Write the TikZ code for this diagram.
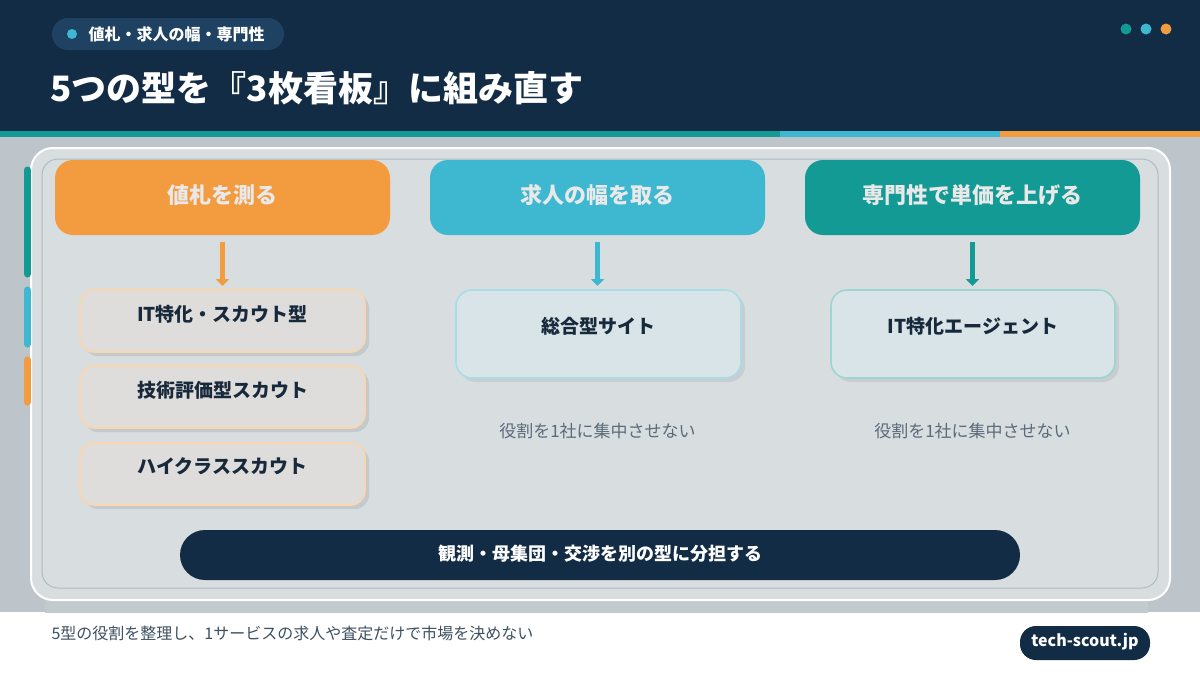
\documentclass[tikz,border=0pt]{standalone}
\usepackage{fontspec}
\setmainfont{Noto Sans CJK JP}
\usetikzlibrary{arrows.meta}
\definecolor{navy}{HTML}{132C45}
\definecolor{tagbg}{HTML}{1F4262}
\definecolor{cteal}{HTML}{149A94}
\definecolor{cblue}{HTML}{3EB8D1}
\definecolor{corange}{HTML}{F39B3F}
\definecolor{photo}{HTML}{BEC5CA}
\definecolor{panel}{HTML}{D8DDE0}
\definecolor{innerline}{HTML}{AEBCC3}
\definecolor{itemfill}{HTML}{DEDDDB}
\definecolor{itemline}{HTML}{FBD6AA}
\definecolor{midfill}{HTML}{D9E4E8}
\definecolor{midline}{HTML}{A8DDE6}
\definecolor{rightline}{HTML}{9DD6D0}
\definecolor{shadowc}{HTML}{C3CACE}
\definecolor{txtdark}{HTML}{17293A}
\definecolor{txtgray}{HTML}{5B6B7A}
\definecolor{foottxt}{HTML}{3E5162}
\definecolor{headtxt}{HTML}{E9E9E9}
\tikzset{
  itembox/.style={draw=itemline, line width=1.6pt, fill=itemfill, rounded corners=14pt},
  flowarrow/.style={line width=5.5pt, -{Triangle[length=7pt,width=13pt]}},
  headlabel/.style={text=headtxt, font=\fontsize{22}{26}\selectfont\bfseries},
  itemlabel/.style={text=txtdark, font=\fontsize{19}{22}\selectfont\bfseries},
  caption/.style={text=txtgray, font=\fontsize{17}{20}\selectfont},
}
\begin{document}
\begin{tikzpicture}[x=1pt,y=-1pt]
\useasboundingbox (0,0) rectangle (1200,675);
% backgrounds
\fill[white] (0,0) rectangle (1200,675);
\fill[navy] (0,0) rectangle (1200,131);
\fill[cteal] (0,131) rectangle (780,137);
\fill[cblue] (780,131) rectangle (1000,137);
\fill[corange] (1000,131) rectangle (1200,137);
\fill[photo] (0,137) rectangle (1200,612);
\fill[shadowc] (45,600) rectangle (1148,613);
% header
\fill[tagbg,rounded corners=16pt] (52,18) rectangle (284,50);
\fill[cblue] (72,34) circle (5);
\node[anchor=west, text=white, font=\fontsize{16}{18}\selectfont\bfseries] (tag) at (85,34) {値札・求人の幅・専門性};
\node[anchor=west, text=white, font=\fontsize{35}{40}\selectfont\bfseries] (title) at (47,88) {5つの型を『3枚看板』に組み直す};
\fill[cteal] (1126,29) circle (5.5);
\fill[cblue] (1146,29) circle (5.5);
\fill[corange] (1166,29) circle (5.5);
% panel
\draw[white, line width=2pt, fill=panel, rounded corners=22pt] (31,148) rectangle (1170,600);
\draw[innerline, line width=1pt, rounded corners=16pt] (42,159) rectangle (1158,588);
% side bars
\draw[cteal, line width=7pt, line cap=round] (27.5,170) -- (27.5,274);
\draw[cblue, line width=7pt, line cap=round] (27.5,290) -- (27.5,344);
\draw[corange, line width=7pt, line cap=round] (27.5,360) -- (27.5,402);
% column headers
\fill[corange, rounded corners=18pt] (55,160) rectangle (390,235);
\fill[cblue, rounded corners=18pt] (430,160) rectangle (765,235);
\fill[cteal, rounded corners=18pt] (805,160) rectangle (1140,235);
\node[headlabel] (h1) at (222.5,195) {値札を測る};
\node[headlabel] (h2) at (597.5,195) {求人の幅を取る};
\node[headlabel] (h3) at (972.5,195) {専門性で単価を上げる};
\coordinate (h1b) at (222.5,242);
\coordinate (h2b) at (597.5,242);
\coordinate (h3b) at (972.5,242);
\coordinate (a1e) at (222.5,286);
\coordinate (a2e) at (597.5,286);
\coordinate (a3e) at (972.5,286);
\draw[flowarrow, corange] (h1b) -- (a1e);
\draw[flowarrow, cblue] (h2b) -- (a2e);
\draw[flowarrow, cteal] (h3b) -- (a3e);
% left items
\foreach \ya/\yb in {290/352, 366/428, 443/505}{
  \fill[shadowc, rounded corners=14pt] (84,\ya+4) rectangle (369,\yb+4);
  \draw[itembox] (80,\ya) rectangle (365,\yb);
}
\node[itemlabel] (i1) at (222.5,314) {IT特化・スカウト型};
\node[itemlabel] (i2) at (222.5,390) {技術評価型スカウト};
\node[itemlabel] (i3) at (222.5,466) {ハイクラススカウト};
% middle and right
\fill[shadowc, opacity=0.8, rounded corners=16pt] (460,294) rectangle (745,382);
\draw[midline, line width=1.6pt, fill=midfill, rounded corners=16pt] (456,290) rectangle (741,378);
\fill[shadowc, opacity=0.8, rounded corners=16pt] (835,294) rectangle (1119,382);
\draw[rightline, line width=1.6pt, fill=midfill, rounded corners=16pt] (831,290) rectangle (1115,378);
\node[itemlabel] (m1) at (598.5,326) {総合型サイト};
\node[itemlabel] (r1) at (973,326) {IT特化エージェント};
\node[caption] (c2) at (597.5,431) {役割を1社に集中させない};
\node[caption] (c3) at (972.5,431) {役割を1社に集中させない};
% bottom pill
\fill[navy, rounded corners=25pt] (180,530) rectangle (1020,580);
\node[text=white, font=\fontsize{18}{21}\selectfont\bfseries] (bp) at (600,554) {観測・母集団・交渉を別の型に分担する};
% footer
\node[anchor=west, text=foottxt, font=\fontsize{16}{18}\selectfont] (foot) at (48,633) {5型の役割を整理し、1サービスの求人や査定だけで市場を決めない};
\fill[navy, rounded corners=16pt] (1020,626) rectangle (1150,660);
\node[text=white, font=\fontsize{16}{18}\selectfont\bfseries] (site) at (1085,642) {tech-scout.jp};
\end{tikzpicture}
\end{document}
